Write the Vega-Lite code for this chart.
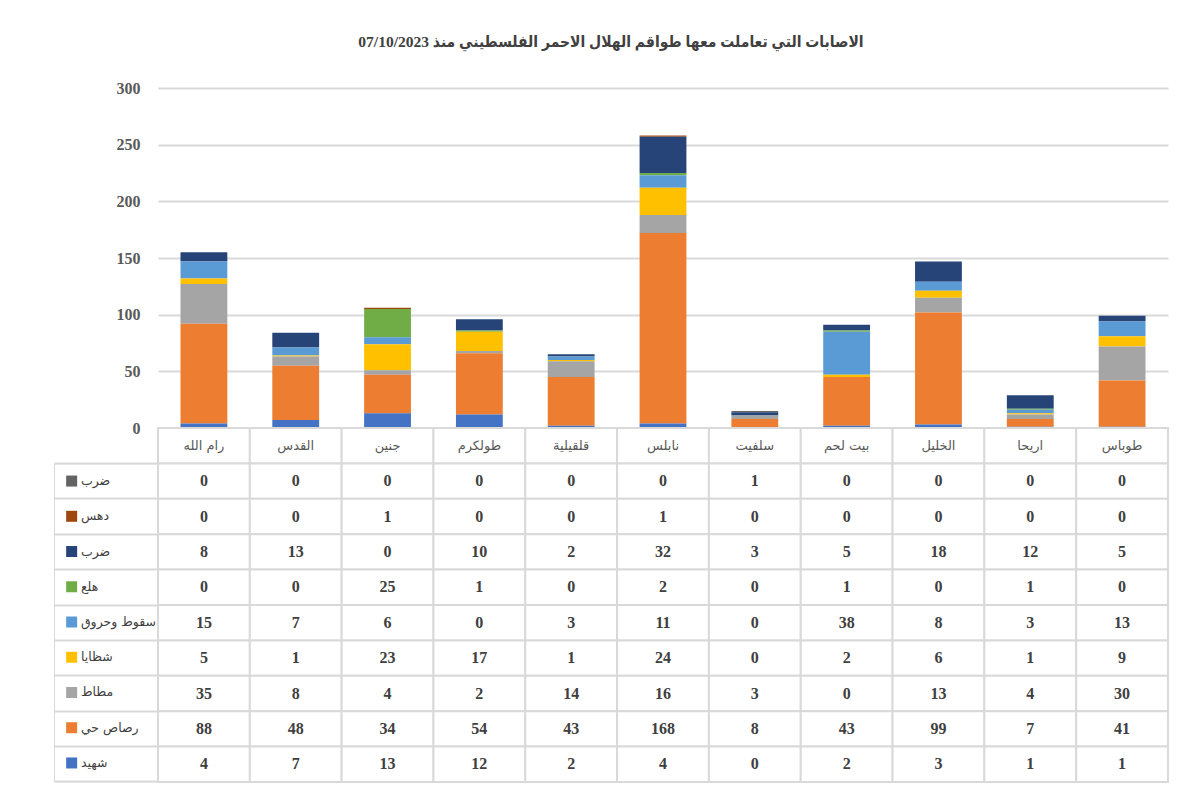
{
  "$schema": "https://vega.github.io/schema/vega-lite/v6.json",
  "padding": {"left": 53, "top": 34, "right": 29, "bottom": 4},
  "bounds": "flush",
  "spacing": 0,
  "background": "white",
  "title": {
    "text": "\u202bالاصابات التي تعاملت معها طواقم الهلال الاحمر الفلسطيني منذ 07/10/2023\u202c",
    "font": "Liberation Serif, DejaVu Sans Condensed",
    "fontSize": 15.5,
    "fontWeight": "bold",
    "color": "#404040",
    "offset": 30,
    "anchor": "middle",
    "frame": "bounds"
  },
  "config": {"view": {"stroke": null}},
  "datasets": {
    "seriesOrder": [
      {"series": "شهيد", "stackOrder": 1}, {"series": "رصاص حي", "stackOrder": 2}, {"series": "مطاط", "stackOrder": 3},
      {"series": "شظايا", "stackOrder": 4}, {"series": "سقوط وحروق", "stackOrder": 5}, {"series": "هلع", "stackOrder": 6},
      {"series": "ضرب", "stackOrder": 7}, {"series": "دهس", "stackOrder": 8}, {"series": "ضرب ", "stackOrder": 9}
    ],
    "cities": [
      {"city": "رام الله", "row": "header"}, {"city": "القدس", "row": "header"}, {"city": "جنين", "row": "header"}, {"city": "طولكرم", "row": "header"}, {"city": "قلقيلية", "row": "header"}, {"city": "نابلس", "row": "header"},
      {"city": "سلفيت", "row": "header"}, {"city": "بيت لحم", "row": "header"}, {"city": "الخليل", "row": "header"}, {"city": "اريحا", "row": "header"}, {"city": "طوباس", "row": "header"}
    ],
    "cells": [
      {"city": "رام الله", "series": "ضرب ", "value": 0}, {"city": "القدس", "series": "ضرب ", "value": 0}, {"city": "جنين", "series": "ضرب ", "value": 0}, {"city": "طولكرم", "series": "ضرب ", "value": 0}, {"city": "قلقيلية", "series": "ضرب ", "value": 0}, {"city": "نابلس", "series": "ضرب ", "value": 0}, {"city": "سلفيت", "series": "ضرب ", "value": 1}, {"city": "بيت لحم", "series": "ضرب ", "value": 0}, {"city": "الخليل", "series": "ضرب ", "value": 0}, {"city": "اريحا", "series": "ضرب ", "value": 0}, {"city": "طوباس", "series": "ضرب ", "value": 0},
      {"city": "رام الله", "series": "دهس", "value": 0}, {"city": "القدس", "series": "دهس", "value": 0}, {"city": "جنين", "series": "دهس", "value": 1}, {"city": "طولكرم", "series": "دهس", "value": 0}, {"city": "قلقيلية", "series": "دهس", "value": 0}, {"city": "نابلس", "series": "دهس", "value": 1}, {"city": "سلفيت", "series": "دهس", "value": 0}, {"city": "بيت لحم", "series": "دهس", "value": 0}, {"city": "الخليل", "series": "دهس", "value": 0}, {"city": "اريحا", "series": "دهس", "value": 0}, {"city": "طوباس", "series": "دهس", "value": 0},
      {"city": "رام الله", "series": "ضرب", "value": 8}, {"city": "القدس", "series": "ضرب", "value": 13}, {"city": "جنين", "series": "ضرب", "value": 0}, {"city": "طولكرم", "series": "ضرب", "value": 10}, {"city": "قلقيلية", "series": "ضرب", "value": 2}, {"city": "نابلس", "series": "ضرب", "value": 32}, {"city": "سلفيت", "series": "ضرب", "value": 3}, {"city": "بيت لحم", "series": "ضرب", "value": 5}, {"city": "الخليل", "series": "ضرب", "value": 18}, {"city": "اريحا", "series": "ضرب", "value": 12}, {"city": "طوباس", "series": "ضرب", "value": 5},
      {"city": "رام الله", "series": "هلع", "value": 0}, {"city": "القدس", "series": "هلع", "value": 0}, {"city": "جنين", "series": "هلع", "value": 25}, {"city": "طولكرم", "series": "هلع", "value": 1}, {"city": "قلقيلية", "series": "هلع", "value": 0}, {"city": "نابلس", "series": "هلع", "value": 2}, {"city": "سلفيت", "series": "هلع", "value": 0}, {"city": "بيت لحم", "series": "هلع", "value": 1}, {"city": "الخليل", "series": "هلع", "value": 0}, {"city": "اريحا", "series": "هلع", "value": 1}, {"city": "طوباس", "series": "هلع", "value": 0},
      {"city": "رام الله", "series": "سقوط وحروق", "value": 15}, {"city": "القدس", "series": "سقوط وحروق", "value": 7}, {"city": "جنين", "series": "سقوط وحروق", "value": 6}, {"city": "طولكرم", "series": "سقوط وحروق", "value": 0}, {"city": "قلقيلية", "series": "سقوط وحروق", "value": 3}, {"city": "نابلس", "series": "سقوط وحروق", "value": 11}, {"city": "سلفيت", "series": "سقوط وحروق", "value": 0}, {"city": "بيت لحم", "series": "سقوط وحروق", "value": 38}, {"city": "الخليل", "series": "سقوط وحروق", "value": 8}, {"city": "اريحا", "series": "سقوط وحروق", "value": 3}, {"city": "طوباس", "series": "سقوط وحروق", "value": 13},
      {"city": "رام الله", "series": "شظايا", "value": 5}, {"city": "القدس", "series": "شظايا", "value": 1}, {"city": "جنين", "series": "شظايا", "value": 23}, {"city": "طولكرم", "series": "شظايا", "value": 17}, {"city": "قلقيلية", "series": "شظايا", "value": 1}, {"city": "نابلس", "series": "شظايا", "value": 24}, {"city": "سلفيت", "series": "شظايا", "value": 0}, {"city": "بيت لحم", "series": "شظايا", "value": 2}, {"city": "الخليل", "series": "شظايا", "value": 6}, {"city": "اريحا", "series": "شظايا", "value": 1}, {"city": "طوباس", "series": "شظايا", "value": 9},
      {"city": "رام الله", "series": "مطاط", "value": 35}, {"city": "القدس", "series": "مطاط", "value": 8}, {"city": "جنين", "series": "مطاط", "value": 4}, {"city": "طولكرم", "series": "مطاط", "value": 2}, {"city": "قلقيلية", "series": "مطاط", "value": 14}, {"city": "نابلس", "series": "مطاط", "value": 16}, {"city": "سلفيت", "series": "مطاط", "value": 3}, {"city": "بيت لحم", "series": "مطاط", "value": 0}, {"city": "الخليل", "series": "مطاط", "value": 13}, {"city": "اريحا", "series": "مطاط", "value": 4}, {"city": "طوباس", "series": "مطاط", "value": 30},
      {"city": "رام الله", "series": "رصاص حي", "value": 88}, {"city": "القدس", "series": "رصاص حي", "value": 48}, {"city": "جنين", "series": "رصاص حي", "value": 34}, {"city": "طولكرم", "series": "رصاص حي", "value": 54}, {"city": "قلقيلية", "series": "رصاص حي", "value": 43}, {"city": "نابلس", "series": "رصاص حي", "value": 168}, {"city": "سلفيت", "series": "رصاص حي", "value": 8}, {"city": "بيت لحم", "series": "رصاص حي", "value": 43}, {"city": "الخليل", "series": "رصاص حي", "value": 99}, {"city": "اريحا", "series": "رصاص حي", "value": 7}, {"city": "طوباس", "series": "رصاص حي", "value": 41},
      {"city": "رام الله", "series": "شهيد", "value": 4}, {"city": "القدس", "series": "شهيد", "value": 7}, {"city": "جنين", "series": "شهيد", "value": 13}, {"city": "طولكرم", "series": "شهيد", "value": 12}, {"city": "قلقيلية", "series": "شهيد", "value": 2}, {"city": "نابلس", "series": "شهيد", "value": 4}, {"city": "سلفيت", "series": "شهيد", "value": 0}, {"city": "بيت لحم", "series": "شهيد", "value": 2}, {"city": "الخليل", "series": "شهيد", "value": 3}, {"city": "اريحا", "series": "شهيد", "value": 1}, {"city": "طوباس", "series": "شهيد", "value": 1}
    ]
  },
  "resolve": {"scale": {"x": "independent", "y": "independent", "color": "independent"}, "legend": {"color": "independent"}},
  "vconcat": [
    {
      "width": 1010,
      "height": 340,
      "data": {"name": "cells"},
      "transform": [
        {"lookup": "series", "from": {"data": {"name": "seriesOrder"}, "key": "series", "fields": ["stackOrder"]}}
      ],
      "mark": {"type": "bar"},
      "encoding": {
        "x": {"field": "city", "type": "nominal", "sort": ["رام الله", "القدس", "جنين", "طولكرم", "قلقيلية", "نابلس", "سلفيت", "بيت لحم", "الخليل", "اريحا", "طوباس"],
              "scale": {"paddingInner": 0.49, "paddingOuter": 0.245}, "axis": null},
        "y": {"field": "value", "type": "quantitative", "stack": "zero",
              "scale": {"domain": [0, 300], "nice": false},
              "axis": {"title": null, "values": [0, 50, 100, 150, 200, 250, 300], "domain": false, "ticks": false,
                       "labelFont": "Liberation Serif", "labelFontWeight": "bold", "labelFontSize": 16, "labelColor": "#595959",
                       "labelPadding": 18, "gridColor": "#d9d9d9", "gridWidth": 2}},
        "order": {"field": "stackOrder", "type": "quantitative", "sort": "ascending"},
        "color": {"field": "series", "type": "nominal",
                  "sort": ["ضرب ", "دهس", "ضرب", "هلع", "سقوط وحروق", "شظايا", "مطاط", "رصاص حي", "شهيد"],
                  "scale": {"domain": ["ضرب ", "دهس", "ضرب", "هلع", "سقوط وحروق", "شظايا", "مطاط", "رصاص حي", "شهيد"],
                            "range": ["#636363", "#9E480E", "#264478", "#70AD47", "#5B9BD5", "#FFC000", "#A5A5A5", "#ED7D31", "#4472C4"]},
                  "legend": {"orient": "none", "legendX": -104, "legendY": 375.4, "title": null,
                             "symbolType": "square", "symbolSize": 121, "symbolStrokeWidth": 0,
                             "labelFont": "DejaVu Sans", "labelFontSize": 12.5, "labelColor": "#404040", "labelOffset": 3,
                             "rowPadding": 22.24, "padding": 11.4, "strokeColor": "#d9d9d9"}}
      }
    },
    {
      "width": 1010,
      "height": 354,
      "layer": [
        {
          "data": {"name": "cities"},
          "mark": {"type": "rect", "fill": "white", "stroke": "#d9d9d9", "strokeWidth": 2},
          "encoding": {
            "x": {"field": "city", "type": "nominal", "sort": null, "scale": {"domain": ["رام الله", "القدس", "جنين", "طولكرم", "قلقيلية", "نابلس", "سلفيت", "بيت لحم", "الخليل", "اريحا", "طوباس"], "padding": 0}, "axis": null},
            "y": {"field": "row", "type": "nominal", "sort": null,
                  "scale": {"type": "band", "domain": ["header", "ضرب ", "دهس", "ضرب", "هلع", "سقوط وحروق", "شظايا", "مطاط", "رصاص حي", "شهيد"], "padding": 0},
                  "axis": {"title": null, "labels": false, "domain": false, "grid": false, "ticks": true, "tickSize": 104, "bandPosition": 1, "tickColor": "#d9d9d9", "tickWidth": 2}}
          }
        },
        {
          "data": {"name": "cities"},
          "mark": {"type": "text", "font": "DejaVu Sans", "fontSize": 13, "color": "#595959"},
          "encoding": {
            "x": {"field": "city", "type": "nominal", "sort": null},
            "y": {"field": "row", "type": "nominal", "sort": null},
            "text": {"field": "city", "type": "nominal"}
          }
        },
        {
          "data": {"name": "cells"},
          "mark": {"type": "rect", "fill": "white", "stroke": "#d9d9d9", "strokeWidth": 2},
          "encoding": {
            "x": {"field": "city", "type": "nominal", "sort": null},
            "y": {"field": "series", "type": "nominal", "sort": null}
          }
        },
        {
          "data": {"name": "cells"},
          "mark": {"type": "text", "font": "Liberation Serif", "fontWeight": "bold", "fontSize": 16, "color": "#404040"},
          "encoding": {
            "x": {"field": "city", "type": "nominal", "sort": null},
            "y": {"field": "series", "type": "nominal", "sort": null},
            "text": {"field": "value", "type": "quantitative"}
          }
        }
      ]
    }
  ]
}
